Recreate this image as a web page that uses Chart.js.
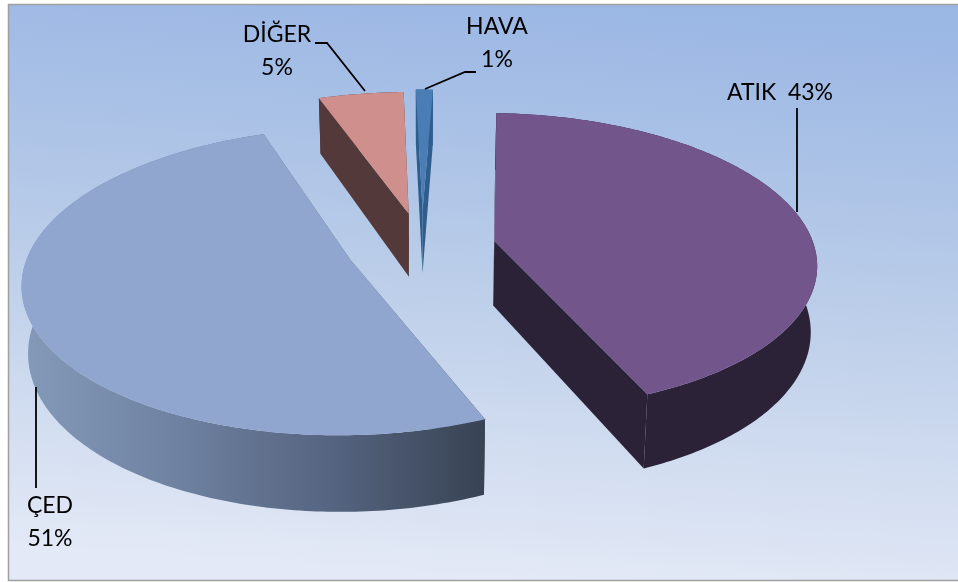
<!DOCTYPE html>
<html>
<head>
<meta charset="utf-8">
<title>Dağılım</title>
<script src="https://cdn.jsdelivr.net/npm/chart.js@4/dist/chart.umd.js"></script>
<style>
html,body{margin:0;padding:0;background:#fff;}
canvas{display:block;}
</style>
</head>
<body>
<canvas id="myChart" width="958" height="582"></canvas>
<script>
var categories=["ATIK","ÇED","DİĞER","HAVA"];
var shares=[43,51,5,1];

var topColors=["#72558b","#91a6ce","#cf8f8c","#4a7db5"];
// one colour is a flat wall, a list runs left to right along the rim
var sideColors=["#2c2238",["#8498b8","#6e81a0","#556480","#384353"],"#54393a","#2f5d8c"];
var explode=[74,76,76,82];

// where each callout sits: text lines and the leader line
var callouts=[
    {lines:[categories[0]+"  "+shares[0]+"%"],x:780,y:93,leader:[[797,108],[797,212]]},
    {lines:[categories[1],shares[1]+"%"],x:50,y:506,leader:[[36,387],[36,488]]},
    {lines:[categories[2],shares[2]+"%"],x:277,y:35,leader:[[315,43],[327,43],[365,91]]},
    {lines:[categories[3],shares[3]+"%"],x:497,y:27,leader:[[476,72],[465,72],[425,89]]}
];

var CAM_DIST=2300, TILT=0.46, WALL=65, WALL_CONV=0.00025, WORLD_R=320;

function project(cx,cy,wx,wy,z){
    var s=CAM_DIST/(CAM_DIST-wy);
    return [cx+wx*s*(1-z*WALL_CONV), cy+wy*TILT*s+z*s];
}

function tracePoly(ctx,pts){
    ctx.beginPath();
    pts.forEach(function(p,i){
        if(i==0) ctx.moveTo(p[0],p[1]);
        else ctx.lineTo(p[0],p[1]);
    });
    ctx.closePath();
}

// pie slice extruded and seen in perspective; angles still come from the pie controller
class SolidArc extends Chart.ArcElement{
    draw(ctx){
        var o=this.options;
        var mid=(this.startAngle+this.endAngle)/2;
        var ox=Math.cos(mid)*o.offset, oy=Math.sin(mid)*o.offset;
        var cx=this.x, cy=this.y;
        var n=Math.ceil((this.endAngle-this.startAngle)/0.015);
        var topRim=[], lowRim=[];

        for(var i=0;i<=n;i++){
            var a=this.startAngle+(this.endAngle-this.startAngle)*i/n;
            var wx=ox+WORLD_R*Math.cos(a), wy=oy+WORLD_R*Math.sin(a);
            topRim.push(project(cx,cy,wx,wy,0));
            lowRim.push(project(cx,cy,wx,wy,WALL));
        }
        var apexTop=project(cx,cy,ox,oy,0), apexLow=project(cx,cy,ox,oy,WALL);

        var fill=o.sideColor;
        if(Array.isArray(fill)){
            var xs=lowRim.map(function(p){return p[0];});
            var grad=ctx.createLinearGradient(Math.min.apply(null,xs),0,Math.max.apply(null,xs),0);
            fill.forEach(function(c,i){grad.addColorStop(i/(fill.length-1),c);});
            fill=grad;
        }

        ctx.save();
        ctx.fillStyle=fill;
        tracePoly(ctx,[apexTop,topRim[0],lowRim[0],apexLow]);
        ctx.fill();
        tracePoly(ctx,[apexTop,topRim[n],lowRim[n],apexLow]);
        ctx.fill();
        tracePoly(ctx,topRim.concat(lowRim.slice().reverse()));
        ctx.fill();

        ctx.fillStyle=o.backgroundColor;
        tracePoly(ctx,[apexTop].concat(topRim));
        ctx.fill();
        ctx.restore();
    }
}
SolidArc.id="solidArc";
SolidArc.defaults=Object.assign({},Chart.ArcElement.defaults,{sideColor:"#000"});

class SolidPieController extends Chart.PieController{}
SolidPieController.id="solidPie";
SolidPieController.defaults={dataElementType:"solidArc"};

Chart.register(SolidArc,SolidPieController);

var backdrop={
    id:"backdrop",
    beforeDraw:function(chart){
        var ctx=chart.ctx;
        var g=ctx.createLinearGradient(540,4,500,580);
        g.addColorStop(0,"#9bb7e4");
        g.addColorStop(0.5,"#bccee9");
        g.addColorStop(1,"#e3e9f6");
        ctx.save();
        ctx.fillStyle="#ffffff";
        ctx.fillRect(0,0,chart.width,chart.height);
        ctx.fillStyle=g;
        ctx.fillRect(8,4,chart.width-8,577);
        ctx.strokeStyle="#a0a0a0";
        ctx.lineWidth=1.5;
        ctx.beginPath();
        ctx.moveTo(chart.width,4.5);
        ctx.lineTo(8.5,4.5);
        ctx.lineTo(8.5,580.5);
        ctx.lineTo(chart.width,580.5);
        ctx.stroke();
        ctx.restore();
    }
};

var calloutLabels={
    id:"calloutLabels",
    afterDatasetsDraw:function(chart){
        var ctx=chart.ctx;
        ctx.save();
        ctx.font="23px Lato";
        ctx.fillStyle="#000000";
        ctx.strokeStyle="#000000";
        ctx.lineWidth=1.8;
        ctx.textAlign="center";
        ctx.textBaseline="middle";
        callouts.forEach(function(c){
            c.lines.forEach(function(t,i){
                ctx.fillText(t,c.x,c.y+i*33);
            });
            ctx.beginPath();
            c.leader.forEach(function(p,i){
                if(i==0) ctx.moveTo(p[0],p[1]);
                else ctx.lineTo(p[0],p[1]);
            });
            ctx.stroke();
        });
        ctx.restore();
    }
};

var myChart=new Chart(document.getElementById("myChart").getContext("2d"),{
    type:"solidPie",
    data:{
        labels:categories,
        datasets:[{
            data:shares,
            backgroundColor:topColors,
            sideColor:sideColors,
            offset:explode,
            borderWidth:0
        }]
    },
    options:{
        responsive:false,
        animation:false,
        rotation:2.2,
        layout:{padding:{right:114,bottom:88}},
        plugins:{legend:{display:false},tooltip:{enabled:false}},
        events:[]
    },
    plugins:[backdrop,calloutLabels]
});
</script>
</body>
</html>
